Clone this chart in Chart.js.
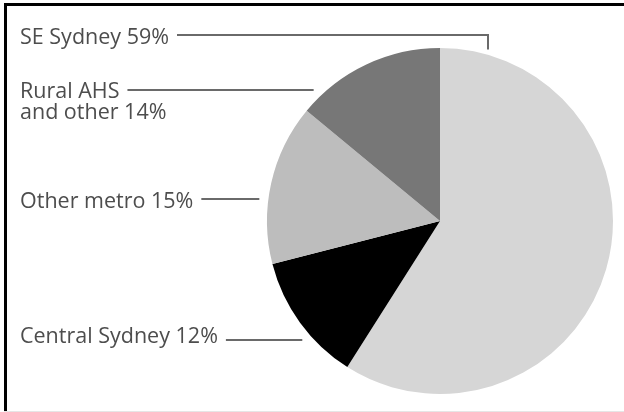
<!DOCTYPE html>
<html>
<head>
<meta charset="utf-8">
<script src="https://cdn.jsdelivr.net/npm/chart.js@4"></script>
<style>
    html, body { margin: 0; padding: 0; background: #fff; }
    #wrap { width: 624px; height: 412px; }
</style>
</head>
<body>
<div id="wrap"><canvas id="shareChart" width="624" height="412"></canvas></div>
<script>
// share of funding by area, going clockwise from 12 o'clock
const areas = ['SE Sydney', 'Central Sydney', 'Other metro', 'Rural AHS and other'];
const shares = [59, 12, 15, 14];
const sliceColors = ['#d6d6d6', '#000000', '#bdbdbd', '#777777'];

// callout text, split over lines where it wraps
const calloutLines = [
    ['SE Sydney 59%'],
    ['Central Sydney 12%'],
    ['Other metro 15%'],
    ['Rural AHS', 'and other 14%']
];

document.addEventListener('DOMContentLoaded', function () {
    const ctx = document.getElementById('shareChart');

    // callout placement: text baseline of first line, y of leader line
    const callouts = [
        { textY: 44, lineY: 35, elbow: true, dx: 48 },
        { textY: 343, lineY: 340 },
        { textY: 208, lineY: 199 },
        { textY: 98, lineY: 90 }
    ];

    const framePlugin = {
        id: 'frame',
        beforeDraw(chart) {
            const c = chart.ctx;
            c.save();
            c.fillStyle = '#000';
            c.fillRect(4, 3, chart.width - 4, 3);
            c.fillRect(4, 3, 3, chart.height - 3);
            c.fillStyle = '#e6e6e6';
            c.fillRect(4, chart.height - 1, chart.width - 4, 1);
            c.restore();
        }
    };

    const calloutPlugin = {
        id: 'callouts',
        afterDraw(chart) {
            const arc = chart.getDatasetMeta(0).data[0];
            const cx = arc.x, cy = arc.y, r = arc.outerRadius;
            const c = chart.ctx;
            c.save();
            c.font = '21.5px "Open Sans"';
            c.textBaseline = 'alphabetic';
            c.fillStyle = '#4d4d4d';
            c.strokeStyle = '#6a6a6a';
            c.lineWidth = 2;

            callouts.forEach(function (co, i) {
                const lines = calloutLines[i];
                lines.forEach(function (t, k) {
                    c.fillText(t, 20, co.textY + k * 21);
                });
                const startX = 20 + c.measureText(lines[0]).width + 8;
                c.beginPath();
                c.moveTo(startX, co.lineY);
                if (co.elbow) {
                    // run across to the right, then drop to just above the rim
                    const ex = cx + co.dx;
                    const ey = cy - Math.sqrt((r + 5) * (r + 5) - co.dx * co.dx);
                    c.lineTo(ex, co.lineY);
                    c.lineTo(ex, ey);
                } else {
                    const rr = r + 9;
                    const dy = co.lineY - cy;
                    c.lineTo(cx - Math.sqrt(rr * rr - dy * dy), co.lineY);
                }
                c.stroke();
            });
            c.restore();
        }
    };

    new Chart(ctx.getContext('2d'), {
        type: 'pie',
        data: {
            labels: areas,
            datasets: [{
                data: shares,
                backgroundColor: sliceColors,
                borderWidth: 0,
                hoverOffset: 0
            }]
        },
        options: {
            responsive: false,
            animation: false,
            events: [],
            layout: {
                padding: { left: 267, right: 11, top: 48, bottom: 18 }
            },
            plugins: {
                legend: { display: false },
                tooltip: { enabled: false }
            }
        },
        plugins: [framePlugin, calloutPlugin]
    });
});
</script>
</body>
</html>
